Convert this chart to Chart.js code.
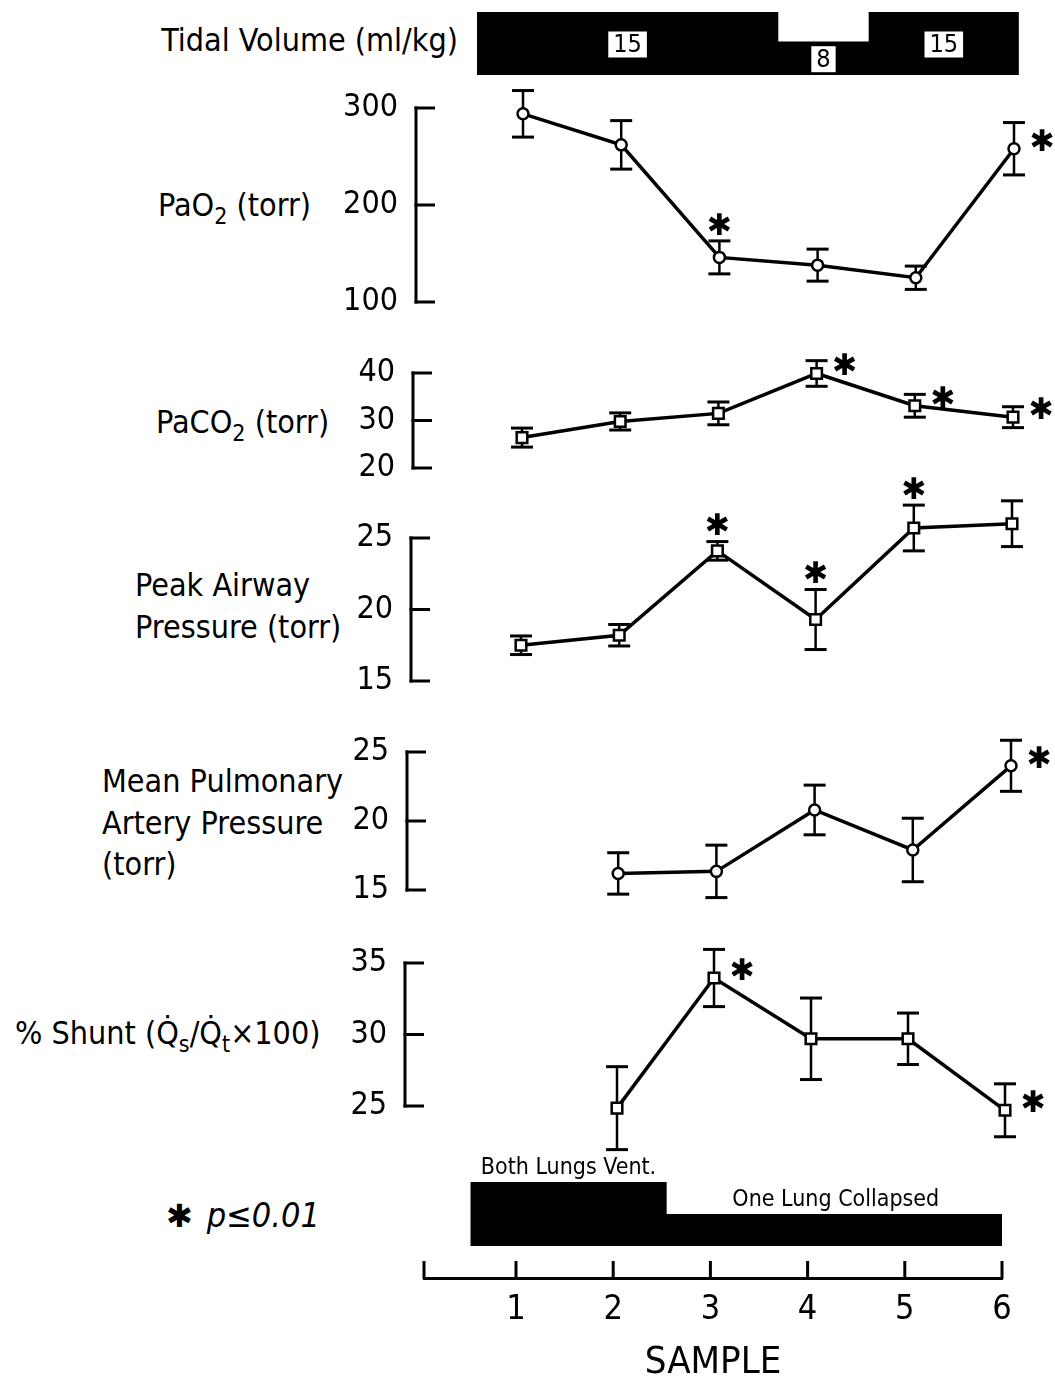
<!DOCTYPE html>
<html>
<head>
<meta charset="utf-8">
<script src="https://cdn.jsdelivr.net/npm/chart.js@4.4.1/dist/chart.umd.min.js"></script>
<style>
  body { margin: 0; background: #fff; width: 1055px; height: 1388px; position: relative; overflow: hidden;
         font-family: "DejaVu Sans Condensed", "DejaVu Sans", sans-serif; color: #000; }
  .box { position: absolute; left: 0; width: 1055px; }
  .box canvas { display: block; }
  .lbl { position: absolute; font-size: 32px; line-height: 42px; white-space: nowrap; }
  .lbl sub { font-size: 0.72em; vertical-align: -0.35em; line-height: 0; }
  .note { position: absolute; left: 166px; top: 1194px; line-height: 42px; white-space: nowrap; }
  .note .ast { font-family: "DejaVu Sans", sans-serif; font-size: 32px; }
  .note i { font-size: 34px; margin-left: 14px; }
</style>
</head>
<body>

<div class="lbl" style="right:597px; top:19px">Tidal Volume (ml/kg)</div>
<div class="lbl" style="left:158px; top:184px">PaO<sub>2</sub> (torr)</div>
<div class="lbl" style="left:156px; top:401px">PaCO<sub>2</sub> (torr)</div>
<div class="lbl" style="left:135px; top:564px">Peak Airway<br>Pressure (torr)</div>
<div class="lbl" style="left:102px; top:761px; line-height:41.5px">Mean Pulmonary<br>Artery Pressure<br>(torr)</div>
<div class="lbl" style="left:15px; top:1012px">% Shunt (Q̇<sub>s</sub>/Q̇<sub>t</sub>×100)</div>
<div class="note"><span class="ast">✱</span><i>p≤0.01</i></div>

<script>
// samples on the x axis
const samples = [1, 2, 3, 4, 5, 6];

// PaO2 (torr)
const pao2Ticks = [100, 200, 300];
const pao2 = [294, 262, 146, 138, 125, 258];
const pao2Err = [24, 25, 17, 16.5, 12, 27];
const pao2Sig = [null, null, 'above', null, null, 'right'];

// PaCO2 (torr)
const paco2Ticks = [20, 30, 40];
const paco2 = [26.4, 29.8, 31.5, 39.9, 33.1, 30.7];
const paco2Err = [2.0, 1.8, 2.4, 2.7, 2.4, 2.2];
const paco2Sig = [null, null, null, 'right', 'right', 'right'];

// Peak airway pressure (torr)
const peakTicks = [15, 20, 25];
const peak = [17.5, 18.2, 24.1, 19.3, 25.7, 26.0];
const peakErr = [0.65, 0.75, 0.65, 2.1, 1.6, 1.6];
const peakSig = [null, null, 'above', 'above', 'above', null];

// Mean pulmonary artery pressure (torr)
const mpapTicks = [15, 20, 25];
const mpap = [null, 16.2, 16.35, 20.8, 17.9, 24.0];
const mpapErr = [null, 1.5, 1.9, 1.8, 2.3, 1.85];
const mpapSig = [null, null, null, null, null, 'right'];

// % shunt
const shuntTicks = [25, 30, 35];
const shunt = [null, 24.85, 33.95, 29.7, 29.7, 24.7];
const shuntErr = [null, 2.9, 2.0, 2.85, 1.8, 1.85];
const shuntSig = [null, null, 'right', null, null, 'right'];

// tidal volume bar (ml/kg), by sample span
const tvStart = [0.53, 3.6, 4.52];
const tvEnd = [3.6, 4.52, 6.05];
const tvVolume = [15, 8, 15];

// ventilation bar, by sample span
const lungStart = [0.53, 2.55];
const lungEnd = [2.55, 6.03];
const lungLevel = [2, 1];
const lungText = ['Both Lungs Vent.', 'One Lung Collapsed'];

const FONT = '"DejaVu Sans Condensed", "DejaVu Sans", sans-serif';

function addCanvas(top, height) {
  const div = document.createElement('div');
  div.className = 'box';
  div.style.top = top + 'px';
  div.style.height = height + 'px';
  const c = document.createElement('canvas');
  c.width = 1055;
  c.height = height;
  div.appendChild(c);
  document.body.appendChild(div);
  return c.getContext('2d');
}

// x range so that sample 1 and 6 land on p1 / p6 with the plot area from L to R
function xRange(p1, p6, L, R) {
  const ppu = (p6 - p1) / 5;
  return { min: 1 + (L - p1) / ppu, max: 6 + (R - p6) / ppu };
}

function line(ctx, x1, y1, x2, y2) {
  ctx.beginPath();
  ctx.moveTo(x1, y1);
  ctx.lineTo(x2, y2);
  ctx.stroke();
}

function panel(cfg) {
  const PAD = 90, EXT = 40;       // canvas margin, plot area margin beyond the axis ends
  const h = cfg.bot - cfg.top + 2 * PAD;
  const ctx = addCanvas(cfg.top - PAD, h);
  const xr = xRange(cfg.p1, cfg.p6, cfg.axisX, cfg.p6);
  const lo = cfg.ticks[0], hi = cfg.ticks[cfg.ticks.length - 1];
  const upp = (hi - lo) / (cfg.bot - cfg.top);
  const pts = samples.map((s, i) => ({ x: s, y: cfg.values[i] }));

  const marks = {
    id: 'marks',
    beforeDatasetsDraw(chart) {
      const c = chart.ctx, xs = chart.scales.x, ys = chart.scales.y;
      c.save();
      c.strokeStyle = '#000';
      cfg.values.forEach((v, i) => {
        if (v === null) return;
        const x = xs.getPixelForValue(samples[i]);
        const y1 = ys.getPixelForValue(v + cfg.errs[i]);
        const y2 = ys.getPixelForValue(v - cfg.errs[i]);
        c.lineWidth = 2.5;
        line(c, x, y1, x, y2);
        c.lineWidth = 3;
        line(c, x - 11, y1, x + 11, y1);
        line(c, x - 11, y2, x + 11, y2);
      });
      c.restore();
    },
    afterDatasetsDraw(chart) {
      const c = chart.ctx, xs = chart.scales.x, ys = chart.scales.y;
      c.save();
      c.fillStyle = '#000';
      c.font = '30px "DejaVu Sans", sans-serif';
      c.textAlign = 'center';
      c.textBaseline = 'middle';
      cfg.sig.forEach((s, i) => {
        if (!s) return;
        const x = xs.getPixelForValue(samples[i]);
        const v = cfg.values[i];
        if (s === 'right') c.fillText('✱', x + 28, ys.getPixelForValue(v) - 6);
        else c.fillText('✱', x, ys.getPixelForValue(v + cfg.errs[i]) - 14);
      });
      c.restore();
    },
    afterDraw(chart) {
      const c = chart.ctx, ys = chart.scales.y, left = chart.chartArea.left;
      c.save();
      c.strokeStyle = '#000';
      c.lineWidth = 3;
      line(c, left, ys.getPixelForValue(hi) - 1.5, left, ys.getPixelForValue(lo) + 1.5);
      cfg.ticks.forEach(t => {
        const py = ys.getPixelForValue(t);
        line(c, left - 1.5, py, left + 19, py);
      });
      c.restore();
    }
  };

  new Chart(ctx, {
    type: 'line',
    data: {
      datasets: [{
        data: pts,
        borderColor: '#000',
        borderWidth: 3.5,
        pointStyle: cfg.marker,
        pointRadius: cfg.marker === 'rect' ? 7.5 : 5.5,
        pointBackgroundColor: '#fff',
        pointBorderColor: '#000',
        pointBorderWidth: 2.5,
        clip: false
      }]
    },
    options: {
      responsive: false,
      animation: false,
      events: [],
      layout: { padding: { left: cfg.axisX - 100, right: 1055 - cfg.p6, top: PAD - EXT, bottom: PAD - EXT } },
      plugins: { legend: { display: false }, tooltip: { enabled: false } },
      scales: {
        x: { type: 'linear', display: false, min: xr.min, max: xr.max },
        y: {
          min: lo - EXT * upp, max: hi + EXT * upp,
          afterFit: s => { s.width = 100; },
          afterBuildTicks: s => { s.ticks = cfg.ticks.map(v => ({ value: v })); },
          ticks: { color: '#000', font: { family: FONT, size: 32 }, padding: 18 },
          grid: { display: false, drawTicks: false },
          border: { display: false }
        }
      }
    },
    plugins: [marks]
  });
}

// stepped black bar (tidal volume / ventilation)
function stepBar(starts, ends, levels) {
  return starts.map((s, i) => ({ x: s, y: levels[i] }))
    .concat([{ x: ends[ends.length - 1], y: levels[levels.length - 1] }]);
}

// ---- tidal volume bar ----
(function () {
  const ctx = addCanvas(0, 90);
  const xr = xRange(523, 1014, 460, 1030);
  const labels = {
    id: 'tvLabels',
    afterDatasetsDraw(chart) {
      const c = chart.ctx, xs = chart.scales.x, ys = chart.scales.y;
      c.save();
      c.font = '25px ' + FONT;
      c.textAlign = 'center';
      c.textBaseline = 'middle';
      tvVolume.forEach((v, i) => {
        const cx = (xs.getPixelForValue(tvStart[i]) + xs.getPixelForValue(tvEnd[i])) / 2;
        const cy = (ys.getPixelForValue(v) + ys.getPixelForValue(0)) / 2 + 1;
        const w = c.measureText(String(v)).width + 10;
        c.fillStyle = '#fff';
        c.fillRect(cx - w / 2, cy - 13, w, 26);
        c.fillStyle = '#000';
        c.fillText(String(v), cx, cy + 1);
      });
      c.restore();
    }
  };
  new Chart(ctx, {
    type: 'line',
    data: {
      datasets: [{
        data: stepBar(tvStart, tvEnd, tvVolume),
        stepped: 'before',
        fill: 'origin',
        backgroundColor: '#000',
        borderColor: '#000',
        borderWidth: 0,
        pointRadius: 0
      }]
    },
    options: {
      responsive: false, animation: false, events: [],
      layout: { padding: { left: 460, right: 1055 - 1030, top: 12, bottom: 15 } },
      plugins: { legend: { display: false }, tooltip: { enabled: false } },
      scales: {
        x: { type: 'linear', display: false, min: xr.min, max: xr.max },
        y: { display: false, min: 0, max: 15 }
      }
    },
    plugins: [labels]
  });
})();

panel({ values: pao2, errs: pao2Err, sig: pao2Sig, ticks: pao2Ticks, marker: 'circle',
        top: 108, bot: 302, axisX: 416, p1: 523, p6: 1014 });
panel({ values: paco2, errs: paco2Err, sig: paco2Sig, ticks: paco2Ticks, marker: 'rect',
        top: 373, bot: 468, axisX: 413, p1: 522, p6: 1013 });
panel({ values: peak, errs: peakErr, sig: peakSig, ticks: peakTicks, marker: 'rect',
        top: 538, bot: 681, axisX: 411, p1: 521, p6: 1012 });
panel({ values: mpap, errs: mpapErr, sig: mpapSig, ticks: mpapTicks, marker: 'circle',
        top: 752, bot: 890, axisX: 407, p1: 520, p6: 1011 });
panel({ values: shunt, errs: shuntErr, sig: shuntSig, ticks: shuntTicks, marker: 'rect',
        top: 963, bot: 1106, axisX: 405, p1: 520, p6: 1005 });

// ---- ventilation bar + sample axis ----
(function () {
  const TOP = 1140, H = 248;
  const ctx = addCanvas(TOP, H);
  const xr = xRange(516, 1002, 424, 1002);
  const extras = {
    id: 'axisExtras',
    afterDatasetsDraw(chart) {
      const c = chart.ctx, xs = chart.scales.x, ys = chart.scales.y;
      c.save();
      c.fillStyle = '#000';
      c.font = '23px ' + FONT;
      c.textAlign = 'center';
      c.textBaseline = 'alphabetic';
      lungText.forEach((t, i) => {
        const cx = (xs.getPixelForValue(lungStart[i]) + xs.getPixelForValue(lungEnd[i])) / 2;
        c.fillText(t, cx, ys.getPixelForValue(lungLevel[i]) - 8);
      });
      c.restore();
    },
    afterDraw(chart) {
      const c = chart.ctx, xs = chart.scales.x, bottom = chart.chartArea.bottom;
      c.save();
      c.strokeStyle = '#000';
      c.lineWidth = 3;
      [xs.min].concat(samples).forEach(v => {
        const px = xs.getPixelForValue(v);
        line(c, px, bottom + 1, px, bottom - 17);
      });
      c.restore();
    }
  };
  new Chart(ctx, {
    type: 'line',
    data: {
      datasets: [{
        data: stepBar(lungStart, lungEnd, lungLevel),
        stepped: 'before',
        fill: 'origin',
        backgroundColor: '#000',
        borderColor: '#000',
        borderWidth: 0,
        pointRadius: 0
      }]
    },
    options: {
      responsive: false, animation: false, events: [],
      layout: { padding: { left: 424, right: 1055 - 1002, top: 1182 - TOP, bottom: 0 } },
      plugins: { legend: { display: false }, tooltip: { enabled: false } },
      scales: {
        x: {
          type: 'linear', position: 'bottom', min: xr.min, max: xr.max,
          afterBuildTicks: s => { s.ticks = samples.map(v => ({ value: v })); },
          afterFit: s => { s.height = H - (1278 - TOP); },
          grid: { display: false, drawTicks: false },
          border: { display: true, color: '#000', width: 3 },
          ticks: { color: '#000', font: { family: FONT, size: 34 }, padding: 12, autoSkip: false, maxRotation: 0 },
          title: { display: true, text: 'SAMPLE', color: '#000', font: { family: FONT, size: 38 }, padding: { top: 0, bottom: 2 } }
        },
        y: { display: false, min: -1, max: 2 }
      }
    },
    plugins: [extras]
  });
})();
</script>
</body>
</html>
